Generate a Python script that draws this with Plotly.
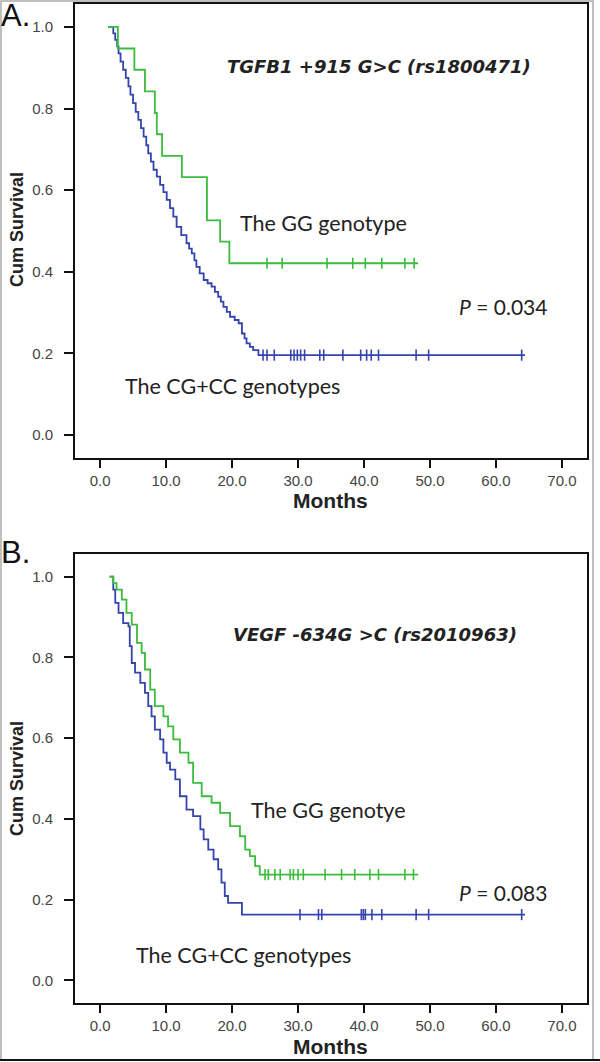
import plotly.graph_objects as go

# ---------------- Data ----------------
# Panel A: TGFB1 +915 G>C
a_gg_start = 1.2
a_gg_event_t = [2.7, 5.2, 6.8, 8.3, 8.6, 9.4, 12.4, 16.2, 18.2, 19.6]
a_gg_event_s = [0.947, 0.895, 0.842, 0.789, 0.737, 0.684, 0.632, 0.526, 0.474, 0.421]
a_gg_end = 48.2
a_gg_censor = [25.3, 27.6, 34.4, 38.3, 40.2, 42.7, 46.2, 47.6]

a_cc_start = 1.2
a_cc_event_t = [2.0, 2.3, 2.6, 2.8, 3.1, 3.5, 3.9, 4.3, 4.6, 5.0, 5.4, 5.8, 6.2, 6.6,
                7.0, 7.3, 7.7, 8.1, 8.6, 9.1, 9.6, 10.1, 10.6, 11.1, 11.6, 12.3,
                13.1, 13.5, 13.9, 14.3, 14.6, 15.1, 15.7, 16.3, 16.9, 17.4, 17.9,
                18.3, 18.7, 19.2, 19.7, 20.4, 21.0, 21.5, 21.9, 22.2, 22.7, 23.2, 24.0]
a_cc_event_s = [0.984, 0.968, 0.952, 0.935, 0.915, 0.895, 0.875, 0.854, 0.834, 0.813,
                0.792, 0.772, 0.752, 0.731, 0.710, 0.690, 0.670, 0.650, 0.633, 0.613,
                0.595, 0.576, 0.556, 0.535, 0.510, 0.490, 0.470, 0.457, 0.445, 0.428,
                0.412, 0.396, 0.380, 0.372, 0.364, 0.351, 0.339, 0.327, 0.314, 0.302,
                0.290, 0.282, 0.274, 0.249, 0.237, 0.225, 0.216, 0.208, 0.196]
a_cc_end = 64.4
a_cc_censor = [24.7, 25.3, 26.4, 28.9, 29.4, 29.9, 30.4, 31.0, 33.3, 33.9, 36.8,
               39.5, 40.4, 41.1, 42.2, 47.9, 49.8, 63.9]

# Panel B: VEGF -634G>C
b_gg_start = 1.4
b_gg_event_t = [2.0, 2.5, 3.3, 4.0, 4.8, 5.6, 6.3, 6.8, 7.6, 8.3, 9.6, 10.3, 11.1,
                12.1, 13.4, 14.1, 15.4, 16.9, 18.2, 19.7, 21.2, 22.0, 22.7, 23.5, 24.2]
b_gg_event_s = [0.984, 0.968, 0.943, 0.910, 0.881, 0.836, 0.811, 0.770, 0.720, 0.679,
                0.654, 0.629, 0.597, 0.564, 0.539, 0.489, 0.456, 0.440, 0.415, 0.382,
                0.357, 0.324, 0.308, 0.283, 0.262]
b_gg_end = 48.2
b_gg_censor = [25.0, 25.5, 26.5, 27.3, 28.8, 29.3, 30.0, 30.8, 34.1, 36.6, 38.6,
               40.9, 42.2, 46.2, 47.5]

b_cc_start = 1.5
b_cc_event_t = [2.0, 2.3, 2.8, 3.5, 4.3, 4.5, 4.8, 5.3, 6.1, 6.8, 7.3, 7.8, 8.3, 9.1,
                9.6, 10.1, 10.6, 11.4, 12.1, 13.1, 14.1, 15.2, 15.7, 16.4, 17.2, 17.9,
                18.4, 18.9, 19.4, 21.5]
b_cc_event_s = [0.968, 0.935, 0.910, 0.885, 0.877, 0.828, 0.786, 0.762, 0.737, 0.712,
                0.679, 0.654, 0.621, 0.597, 0.564, 0.539, 0.522, 0.498, 0.456, 0.423,
                0.407, 0.374, 0.349, 0.324, 0.300, 0.275, 0.242, 0.209, 0.192, 0.163]
b_cc_end = 64.4
b_cc_censor = [30.3, 33.1, 33.6, 39.6, 39.9, 40.2, 41.2, 42.7, 47.9, 49.8, 63.9]

x_ticks = [0, 10, 20, 30, 40, 50, 60, 70]
x_tick_text = ["0.0", "10.0", "20.0", "30.0", "40.0", "50.0", "60.0", "70.0"]
y_ticks = [0.0, 0.2, 0.4, 0.6, 0.8, 1.0]
y_tick_text = ["0.0", "0.2", "0.4", "0.6", "0.8", "1.0"]

GREEN = "#3cbc3c"
BLUE = "#3444ac"

W, H = 600, 1062


def px(x):
    return x / W


def py(y):
    return 1 - y / H


def step_xy(start, ts, ss, end):
    xs = [start] + list(ts) + [end]
    ys = [1.0] + list(ss) + [ss[-1]]
    return xs, ys


fig = go.Figure()


def add_panel(xa, ya, gg, cc):
    for (start, ts, ss, end, cens, col) in (cc, gg):
        xs, ys = step_xy(start, ts, ss, end)
        fig.add_trace(go.Scatter(x=xs, y=ys, mode="lines", line=dict(color=col, width=1.8, shape="hv"),
                                 xaxis=xa, yaxis=ya, showlegend=False, hoverinfo="skip"))
        fig.add_trace(go.Scatter(x=cens, y=[ss[-1]] * len(cens), mode="markers",
                                 marker=dict(symbol="line-ns", size=8, line=dict(color=col, width=1.6)),
                                 xaxis=xa, yaxis=ya, showlegend=False, hoverinfo="skip"))


add_panel("x", "y",
          (a_gg_start, a_gg_event_t, a_gg_event_s, a_gg_end, a_gg_censor, GREEN),
          (a_cc_start, a_cc_event_t, a_cc_event_s, a_cc_end, a_cc_censor, BLUE))
add_panel("x2", "y2",
          (b_gg_start, b_gg_event_t, b_gg_event_s, b_gg_end, b_gg_censor, GREEN),
          (b_cc_start, b_cc_event_t, b_cc_event_s, b_cc_end, b_cc_censor, BLUE))

xaxis_common = dict(range=[-3.8, 73.8], tickvals=x_ticks, ticktext=x_tick_text, ticks="outside",
                    ticklen=8, tickwidth=2, tickcolor="#111", showline=True, linecolor="#111",
                    linewidth=2, mirror=True, showgrid=False, zeroline=False,
                    tickfont=dict(family="Liberation Sans, Arial", size=15, color="#444"),
                    ticklabelstandoff=0, domain=[px(75), px(587)])
yaxis_common = dict(range=[-0.056, 1.056], tickvals=y_ticks, ticktext=y_tick_text, ticks="outside",
                    ticklen=9, tickwidth=2, tickcolor="#111", showline=True, linecolor="#111",
                    linewidth=2, mirror=True, showgrid=False, zeroline=False,
                    tickfont=dict(family="Liberation Sans, Arial", size=15, color="#444"),
                    ticklabelstandoff=8)

fig.update_layout(
    width=W, height=H, margin=dict(l=0, r=0, t=0, b=0, autoexpand=False),
    paper_bgcolor="white", plot_bgcolor="white",
    xaxis=dict(xaxis_common, anchor="y"),
    yaxis=dict(yaxis_common, anchor="x", domain=[py(458), py(4)]),
    xaxis2=dict(xaxis_common, anchor="y2"),
    yaxis2=dict(yaxis_common, anchor="x2", domain=[py(1003), py(554)]),
)

LBL = "Lato, Calibri, Open Sans"
TTL = "DejaVu Sans, Open Sans"
ann = []


def text(x, y, t, xref, yref, size=18, family=LBL, **kw):
    ann.append(dict(x=x, y=y, xref=xref, yref=yref, text=t, showarrow=False,
                    xanchor="center", yanchor="middle",
                    font=dict(family=family, size=size, color="#222"), **kw))


# Panel A texts
text(42.2, 0.902, "<b><i>TGFB1 +915 G&gt;C (rs1800471)</i></b>", "x", "y", size=18, family=TTL)
text(33.9, 0.52, "The GG genotype", "x", "y", size=21.5)
text(61.0, 0.316, "<i>P</i> = 0.034", "x", "y", size=21)
text(20.1, 0.12, "The CG+CC genotypes", "x", "y", size=21.5)
# Panel B texts
text(41.6, 0.856, "<b><i>VEGF -634G &gt;C (rs2010963)</i></b>", "x2", "y2", size=18, family=TTL)
text(34.6, 0.421, "The GG genotye", "x2", "y2", size=21.5)
text(61.0, 0.218, "<i>P</i> = 0.083", "x2", "y2", size=21)
text(21.7, 0.062, "The CG+CC genotypes", "x2", "y2", size=21.5)

# Axis titles
AX = "Liberation Sans, Arial"
text(px(330), py(501), "<b>Months</b>", "paper", "paper", size=21, family=AX)
text(px(330), py(1046), "<b>Months</b>", "paper", "paper", size=21, family=AX)
text(px(17), py(230), "<b>Cum Survival</b>", "paper", "paper", size=18, family=AX, textangle=-90)
text(px(17), py(779), "<b>Cum Survival</b>", "paper", "paper", size=18, family=AX, textangle=-90)

# Panel letters
ann.append(dict(x=px(-1), y=py(35), xref="paper", yref="paper", text="A.", showarrow=False,
                xanchor="left", yanchor="bottom", font=dict(family=AX, size=31, color="#111")))
ann.append(dict(x=px(-1), y=py(552), xref="paper", yref="paper", text="B.", showarrow=False,
                xanchor="left", yanchor="middle", font=dict(family=AX, size=31, color="#111")))

fig.update_layout(annotations=ann)

# outer frame of the figure
fig.add_shape(type="rect", xref="paper", yref="paper", x0=px(1), x1=px(593), y0=py(1060), y1=py(1),
              line=dict(color="#aaaaaa", width=1.5), layer="below")
fig.add_shape(type="line", xref="paper", yref="paper", x0=0, x1=1, y0=py(1060), y1=py(1060),
              line=dict(color="#111", width=2))

fig.write_html("out.html", config={"displayModeBar": False},
               post_script="document.body.style.margin='0px';document.body.style.overflow='hidden';")
